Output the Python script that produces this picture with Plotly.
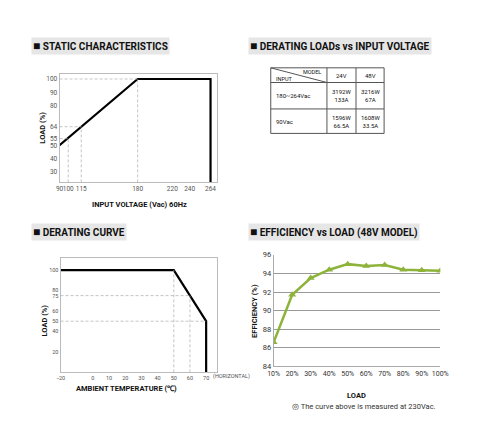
import plotly.graph_objects as go

W, H = 480, 432
# Static characteristics
sc_v = [90, 180, 264, 264]
sc_load = [50, 100, 100, 22]
sc_xticks = [90, 100, 115, 180, 220, 240, 264]
sc_yticks = [30, 40, 50, 55, 64, 80, 90, 100]
# Derating curve
dc_t = [-20, 50, 70, 70]
dc_load = [100, 100, 50, 0]
dc_xticks = [-20, 0, 10, 20, 30, 40, 50, 60, 70]
dc_yticks = [20, 40, 50, 60, 75, 80, 100]
# Efficiency
eff_load = [10, 20, 30, 40, 50, 60, 70, 80, 90, 100]
eff_val = [86.6, 91.7, 93.5, 94.4, 95.0, 94.8, 94.9, 94.4, 94.35, 94.3]
# Table
tbl_models = ["24V", "48V"]
tbl_inputs = ["180~264Vac", "90Vac"]
tbl_cells = [["3192W<br>133A", "3216W<br>67A"], ["1596W<br>66.5A", "1608W<br>33.5A"]]

FONT = "Liberation Sans Narrow, Roboto, Arial"
def px(x): return x / W
def py(y): return 1 - y / H

fig = go.Figure()
line = dict(color="black", width=2.2)
fig.add_trace(go.Scatter(x=sc_v, y=sc_load, mode="lines", line=line, xaxis="x", yaxis="y", showlegend=False))
fig.add_trace(go.Scatter(x=dc_t, y=dc_load, mode="lines", line=line, xaxis="x2", yaxis="y2", showlegend=False))
fig.add_trace(go.Scatter(x=eff_load, y=eff_val, mode="lines+markers", line=dict(color="#8db33b", width=2.5),
                         marker=dict(symbol="triangle-up", size=7, color="#8db33b"), xaxis="x3", yaxis="y3", showlegend=False))

tickf = dict(family=FONT, size=6.5, color="#555")
box = dict(showline=True, mirror=True, linecolor="#bbb", linewidth=1, showgrid=False, zeroline=False, ticks="", tickangle=0)
fig.update_layout(
    width=W, height=H, margin=dict(l=0, r=0, t=0, b=0), paper_bgcolor="white", plot_bgcolor="white",
    xaxis=dict(domain=[px(46), px(209)], range=[90, 272], tickvals=sc_xticks, tickfont=tickf, **box, anchor="y"),
    yaxis=dict(domain=[py(174), py(63)], range=[22, 104], tickvals=sc_yticks, tickfont=tickf, **box, anchor="x"),
    xaxis2=dict(domain=[px(47), px(209)], range=[-20, 77], tickvals=dc_xticks, tickfont=dict(family=FONT, size=5.5, color="#555"), **box, anchor="y2"),
    yaxis2=dict(domain=[py(368), py(251)], range=[0, 112], tickvals=dc_yticks, tickfont=dict(family=FONT, size=5.5, color="#555"), **box, anchor="x2"),
    xaxis3=dict(domain=[px(267), px(439)], range=[10, 100], tickvals=eff_load, ticktext=[f"{v}%" for v in eff_load], tickangle=0,
                tickfont=dict(family=FONT, size=7, color="#333"), showline=True, linecolor="#aaa", showgrid=False, zeroline=False, anchor="y3"),
    yaxis3=dict(domain=[py(362), py(248)], range=[84, 96], dtick=2, tickfont=dict(family=FONT, size=7.5, color="#333"),
                showgrid=True, gridcolor="#999", gridwidth=1, showline=True, linecolor="#aaa", zeroline=False, anchor="x3"),
)

dash = dict(color="#aaa", width=0.7, dash="3px,2px")
for xv, yv in [(100, 55), (115, 64), (180, 100)]:
    fig.add_shape(type="line", xref="x", yref="y", x0=xv, x1=xv, y0=22, y1=yv, line=dash)
    fig.add_shape(type="line", xref="x", yref="y", x0=90, x1=xv, y0=yv, y1=yv, line=dash)
for xv, yv in [(60, 75), (70, 50)]:
    fig.add_shape(type="line", xref="x2", yref="y2", x0=-20, x1=xv, y0=yv, y1=yv, line=dash)
fig.add_shape(type="line", xref="x2", yref="y2", x0=50, x1=50, y0=0, y1=100, line=dash)
fig.add_shape(type="line", xref="x2", yref="y2", x0=60, x1=60, y0=0, y1=75, line=dash)

ann = []
def title(x, y, text):
    ann.append(dict(x=px(x), y=py(y), xref="paper", yref="paper", xanchor="left", yanchor="middle", showarrow=False,
                    text="<span style='font-size:12px'>■</span> " + text, bgcolor="#e6e6e6",
                    font=dict(family=FONT, size=10, color="#111", weight="bold")))
title(16, 35, "STATIC CHARACTERISTICS")
title(241, 35, "DERATING LOADs vs INPUT VOLTAGE")
title(16, 225, "DERATING CURVE")
title(241, 225, "EFFICIENCY vs LOAD (48V MODEL)")
def txt(x, y, text, size=8, angle=0, bold=True, color="#111", xa="center"):
    ann.append(dict(x=px(x), y=py(y), xref="paper", yref="paper", xanchor=xa, yanchor="middle", showarrow=False, textangle=angle,
                    text=text, font=dict(family=FONT, size=size, color=color, weight="bold" if bold else "normal")))
txt(128, 197, "INPUT VOLTAGE (Vac) 60Hz", 7.5)
txt(28, 118, "LOAD (%)", 7.5, -90)
txt(115, 385, "AMBIENT TEMPERATURE (℃)", 7.5)
txt(30, 315, "LOAD (%)", 7.5, -90)
txt(223, 372, "(HORIZONTAL)", 5.5, bold=False, color="#555")
txt(247, 305, "EFFICIENCY (%)", 7.5, -90)
txt(353, 392, "LOAD", 7.5)
txt(284, 403, "◎ The curve above is measured at 230Vac.", 7.5, bold=False, color="#333", xa="left")

# table
cx = [264, 322, 352, 381]
ry = [57, 72, 99, 124]
tl = dict(color="#555", width=1)
for x in cx:
    fig.add_shape(type="line", xref="paper", yref="paper", x0=px(x), x1=px(x), y0=py(ry[0]), y1=py(ry[-1]), line=tl)
for y in ry:
    fig.add_shape(type="line", xref="paper", yref="paper", x0=px(cx[0]), x1=px(cx[-1]), y0=py(y), y1=py(y), line=tl)
fig.add_shape(type="line", xref="paper", yref="paper", x0=px(cx[0]), x1=px(cx[1]), y0=py(ry[0]), y1=py(ry[1]), line=tl)
txt(318, 61, "MODEL", 5.5, bold=False, xa="right")
txt(267, 68, "INPUT", 5.5, bold=False, xa="left")
for j, m in enumerate(tbl_models):
    txt((cx[j + 1] + cx[j + 2]) / 2, 65, m, 6, bold=False)
for i, inp in enumerate(tbl_inputs):
    yc = (ry[i + 1] + ry[i + 2]) / 2
    txt(267, yc, inp, 6, bold=False, xa="left")
    for j in range(2):
        txt((cx[j + 1] + cx[j + 2]) / 2, yc, tbl_cells[i][j], 6, bold=False)
fig.update_layout(annotations=ann)
fig.write_html("out.html")
